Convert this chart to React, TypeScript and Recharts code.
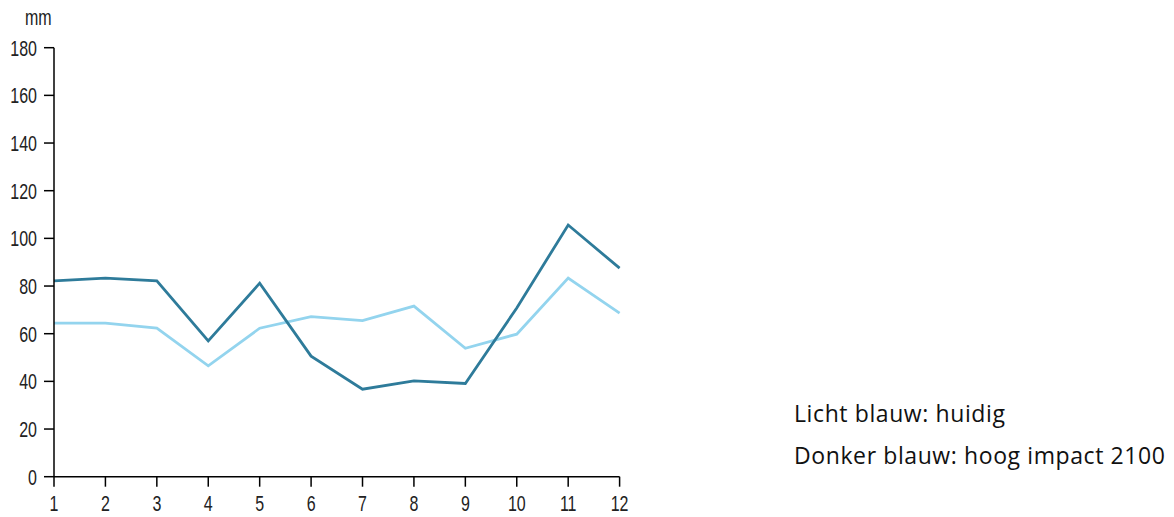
import React from 'react';
import { LineChart, Line, XAxis, YAxis } from 'recharts';

const months = [1, 2, 3, 4, 5, 6, 7, 8, 9, 10, 11, 12];
const huidig = [64.4, 64.4, 62.3, 46.5, 62.3, 67.2, 65.5, 71.6, 53.9, 59.8, 83.3, 68.6];
const hoogImpact = [82.2, 83.3, 82.2, 57.0, 81.2, 50.6, 36.7, 40.2, 39.1, 70.8, 105.6, 87.5];
const yTicks = [0, 20, 40, 60, 80, 100, 120, 140, 160, 180];
const legendLines = ['Licht blauw: huidig', 'Donker blauw: hoog impact 2100'];

const data = months.map((m, i) => ({ month: m, huidig: huidig[i], hoog: hoogImpact[i] }));

const TICK_FONT = 'Liberation Sans, Arial, sans-serif';

const YTick = (props: any) => {
  const { x, y, payload } = props;
  return (
    <g transform={`translate(${x},${y})`}>
      <text transform="scale(1,1.4)" textAnchor="end" dy="0.36em" fontSize={16} fontFamily={TICK_FONT} fill="#222">
        {payload.value}
      </text>
    </g>
  );
};

const XTick = (props: any) => {
  const { x, y, payload } = props;
  return (
    <g transform={`translate(${x},${y})`}>
      <text transform="scale(1,1.4)" textAnchor="middle" dy="0.72em" fontSize={16} fontFamily={TICK_FONT} fill="#222">
        {payload.value}
      </text>
    </g>
  );
};

export default function App() {
  return (
    <div style={{ position: 'absolute', left: 0, top: 0, width: 1174, height: 517, background: '#fff' }}>
      <LineChart width={640} height={517} data={data} margin={{ top: 47.7, right: 20.4, left: 0, bottom: 0 }}>
        <XAxis
          dataKey="month"
          type="number"
          domain={[1, 12]}
          ticks={months}
          interval={0}
          height={40.3}
          tickSize={10}
          tickMargin={8}
          stroke="#000"
          strokeWidth={1.5}
          tick={<XTick />}
        />
        <YAxis
          domain={[0, 180]}
          ticks={yTicks}
          interval={0}
          width={54}
          tickSize={10}
          tickMargin={7}
          stroke="#000"
          strokeWidth={1.5}
          tick={<YTick />}
        />
        <Line type="linear" dataKey="huidig" stroke="#93d4ee" strokeWidth={2.8} dot={false} isAnimationActive={false} />
        <Line type="linear" dataKey="hoog" stroke="#2e7b9a" strokeWidth={2.8} dot={false} isAnimationActive={false} />
      </LineChart>
      <svg style={{ position: 'absolute', left: 0, top: 0 }} width={1174} height={517} pointerEvents="none">
        <g transform="translate(25,25) scale(1,1.4)">
          <text fontSize={16} fontFamily={TICK_FONT} fill="#222">mm</text>
        </g>
        {legendLines.map((t, i) => (
          <text
            key={t}
            x={794}
            y={421.5 + i * 42.5}
            fontSize={23}
            letterSpacing={0.6}
            fontFamily='"Open Sans", sans-serif'
            fill="#111"
          >
            {t}
          </text>
        ))}
      </svg>
    </div>
  );
}
